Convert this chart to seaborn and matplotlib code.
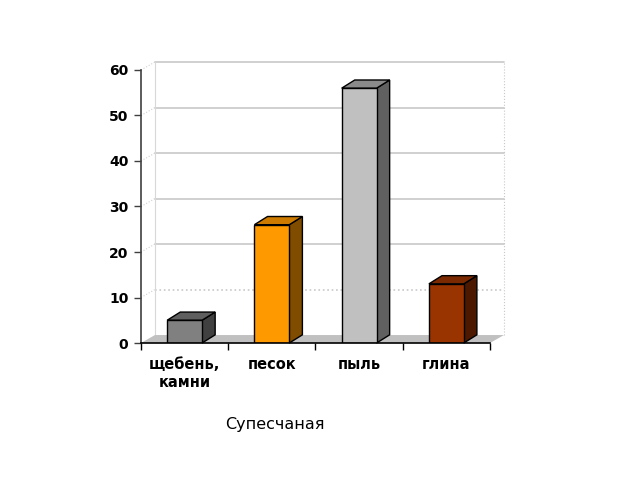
import matplotlib.pyplot as plt
import numpy as np
import seaborn as sns
from matplotlib.patches import Polygon

# Data
categories = ["щебень,\nкамни", "песок", "пыль", "глина"]
values = [5, 26, 56, 13]
front_colors = ["#808080", "#ff9900", "#c0c0c0", "#993300"]
top_colors = ["#5f5f5f", "#cc7a00", "#8a8a8a", "#7a2900"]
side_colors = ["#404040", "#7f4c00", "#606060", "#4c1900"]
y_ticks = [0, 10, 20, 30, 40, 50, 60]
title = "Супесчаная"

sns.set_style("white")
plt.rcParams["font.family"] = ["DejaVu Sans"]
plt.rcParams["text.color"] = "black"
plt.rcParams["xtick.color"] = "black"
plt.rcParams["ytick.color"] = "black"

fig = plt.figure(figsize=(6.4, 4.8), dpi=100)
ax = fig.add_axes([0.2203, 0.2854, 0.5453, 0.5688])

# front faces
sns.barplot(x=categories, y=values, hue=categories, palette=front_colors,
            legend=False, width=0.4, edgecolor="black", linewidth=1.0,
            saturation=1, ax=ax, zorder=2)
bars = [p for c in ax.containers for p in c]

# depth offsets of the fake 3d box (data units)
dx, dy = 0.16, 1.75
bdx, bdy = 0.15, 1.8
xmin, xmax = -0.5, len(categories) - 0.5
ymax = y_ticks[-1]

# floor
ax.add_patch(Polygon([(xmin, 0), (xmax, 0), (xmax + dx, dy), (xmin + dx, dy)],
                     closed=True, facecolor="#c0c0c0", edgecolor="none",
                     zorder=0.5, clip_on=False))

# back wall with gridlines and left wall connectors
for t in y_ticks[1:]:
    ls = ":" if t == 10 else "-"
    ax.plot([xmin + dx, xmax + dx], [t + dy, t + dy], color="#c8c8c8",
            lw=1.2, ls=ls, zorder=0.4, clip_on=False)
    ax.plot([xmin, xmin + dx], [t, t + dy], color="#d0d0d0", lw=0.8,
            ls=":", zorder=0.4, clip_on=False)
ax.plot([xmin + dx, xmin + dx], [dy, ymax + dy], color="#d8d8d8", lw=0.8,
        zorder=0.4, clip_on=False)
ax.plot([xmax + dx, xmax + dx], [dy, ymax + dy], color="#c8c8c8", lw=0.8,
        ls=":", zorder=0.4, clip_on=False)

# side and top faces built from each bar
for i, p in enumerate(bars):
    x0, w, h = p.get_x(), p.get_width(), p.get_height()
    x1 = x0 + w
    ax.add_patch(Polygon([(x1, 0), (x1 + bdx, bdy), (x1 + bdx, h + bdy), (x1, h)],
                         closed=True, facecolor=side_colors[i],
                         edgecolor="black", lw=1.0, zorder=1.9, clip_on=False))
    ax.add_patch(Polygon([(x0, h), (x0 + bdx, h + bdy), (x1 + bdx, h + bdy), (x1, h)],
                         closed=True, facecolor=top_colors[i],
                         edgecolor="black", lw=1.0, zorder=1.9, clip_on=False))

ax.set_xlim(xmin, xmax)
ax.set_ylim(0, ymax)
ax.set_yticks(y_ticks)
ax.set_yticklabels([str(t) for t in y_ticks], fontweight="bold", fontsize=10)
ax.set_xticks(range(len(categories)))
ax.set_xticklabels(categories, fontweight="bold", fontsize=10.5, linespacing=1.3)
ax.set_xticks(np.arange(xmin, xmax + 0.01, 1.0), minor=True)
ax.tick_params(axis="x", which="major", length=0, pad=10, labelcolor="black")
ax.tick_params(axis="x", which="minor", length=5, width=1, color="black",
               direction="out", bottom=True)
ax.tick_params(axis="y", length=5, width=1, color="#404040", direction="out",
               left=True, pad=4, labelcolor="black")
ax.set_xlabel("")
ax.set_ylabel("")

for s in ["top", "right"]:
    ax.spines[s].set_visible(False)
ax.spines["left"].set_color("#404040")
ax.spines["left"].set_linewidth(1.2)
ax.spines["bottom"].set_color("black")
ax.spines["bottom"].set_linewidth(1.2)
ax.patch.set_alpha(0)

fig.text(275 / 640, 1 - 424 / 480, title, ha="center", va="center",
         fontsize=11.5, color="black")

fig.savefig("out.png", dpi=100)
